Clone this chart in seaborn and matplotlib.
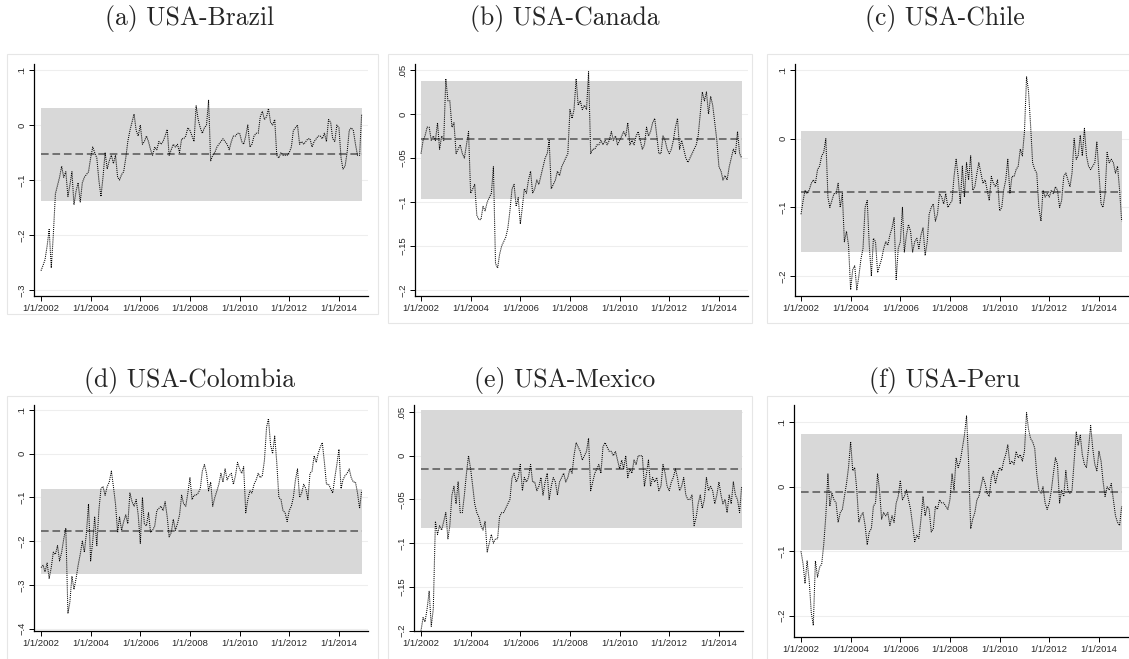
import numpy as np
import pandas as pd
import matplotlib
matplotlib.use('Agg')
import matplotlib.pyplot as plt
from matplotlib.patches import Rectangle
import seaborn as sns

sns.set_style('white')
plt.rcParams['font.family'] = ['Liberation Sans', 'DejaVu Sans']

# monthly readings, Jan 2002 .. Dec 2014 (one row per year)
brazil = [
    -0.265, -0.255, -0.245, -0.22, -0.19, -0.26, -0.20, -0.125, -0.11, -0.095, -0.075, -0.095,
    -0.085, -0.13, -0.11, -0.085, -0.145, -0.12, -0.105, -0.14, -0.105, -0.095, -0.09, -0.085,
    -0.06, -0.04, -0.05, -0.06, -0.10, -0.13, -0.095, -0.05, -0.08, -0.065, -0.055, -0.07,
    -0.055, -0.095, -0.10, -0.09, -0.085, -0.06, -0.03, -0.01, 0.005, 0.02, -0.01, -0.02,
    0.0, -0.035, -0.03, -0.02, -0.03, -0.045, -0.055, -0.04, -0.045, -0.03, -0.035, -0.03,
    -0.02, -0.008, -0.055, -0.045, -0.035, -0.04, -0.035, -0.05, -0.025, -0.025, -0.02, -0.005,
    -0.01, -0.02, -0.03, 0.035, 0.01, -0.005, -0.015, -0.005, 0.0, 0.045, -0.065, -0.055,
    -0.05, -0.04, -0.035, -0.03, -0.025, -0.03, -0.035, -0.045, -0.03, -0.02, -0.02, -0.015,
    -0.015, -0.03, -0.035, -0.02, 0.0, -0.04, -0.035, -0.02, -0.015, -0.015, 0.015, 0.025,
    0.01, 0.015, 0.03, 0.005, 0.0, 0.01, -0.055, -0.06, -0.05, -0.055, -0.055, -0.055,
    -0.05, -0.04, -0.01, -0.005, 0.0, -0.035, -0.03, -0.035, -0.03, -0.025, -0.025, -0.04,
    -0.03, -0.025, -0.02, -0.02, -0.025, -0.015, -0.03, 0.01, 0.005, -0.025, -0.03, 0.0,
    -0.005, -0.06, -0.08, -0.075, -0.05, -0.01, -0.005, -0.01, -0.035, -0.055, -0.055, 0.02,
]
canada = [
    -0.045, -0.03, -0.025, -0.015, -0.015, -0.03, -0.025, -0.03, -0.01, -0.04, -0.025, -0.03,
    0.04, 0.015, 0.015, -0.015, -0.01, -0.045, -0.04, -0.035, -0.045, -0.05, -0.035, -0.02,
    -0.09, -0.085, -0.08, -0.115, -0.12, -0.12, -0.105, -0.11, -0.10, -0.095, -0.09, -0.06,
    -0.17, -0.175, -0.16, -0.15, -0.145, -0.14, -0.13, -0.11, -0.085, -0.08, -0.105, -0.095,
    -0.125, -0.105, -0.085, -0.09, -0.075, -0.065, -0.09, -0.085, -0.075, -0.08, -0.07, -0.06,
    -0.05, -0.045, -0.03, -0.085, -0.08, -0.075, -0.065, -0.07, -0.06, -0.055, -0.05, -0.045,
    0.005, -0.005, 0.005, 0.04, 0.01, 0.015, 0.005, 0.01, 0.005, 0.048, -0.045, -0.04,
    -0.04, -0.035, -0.035, -0.03, -0.035, -0.03, -0.035, -0.03, -0.02, -0.03, -0.025, -0.035,
    -0.03, -0.025, -0.02, -0.025, -0.01, -0.035, -0.03, -0.035, -0.025, -0.02, -0.03, -0.04,
    -0.035, -0.015, -0.025, -0.02, -0.01, -0.005, -0.025, -0.045, -0.045, -0.025, -0.03, -0.04,
    -0.045, -0.04, -0.03, -0.015, -0.005, -0.04, -0.03, -0.04, -0.05, -0.055, -0.05, -0.045,
    -0.04, -0.035, -0.025, 0.0, 0.025, 0.015, 0.025, 0.0, 0.02, 0.01, -0.01, -0.03,
    -0.06, -0.065, -0.075, -0.07, -0.075, -0.06, -0.05, -0.04, -0.045, -0.02, -0.045, -0.05,
]
chile = [
    -0.11, -0.09, -0.075, -0.08, -0.075, -0.065, -0.06, -0.065, -0.045, -0.04, -0.025, -0.02,
    0.0, -0.085, -0.1, -0.09, -0.08, -0.08, -0.065, -0.1, -0.08, -0.15, -0.135, -0.155,
    -0.22, -0.19, -0.185, -0.22, -0.2, -0.175, -0.16, -0.1, -0.09, -0.155, -0.2, -0.145,
    -0.15, -0.195, -0.185, -0.175, -0.16, -0.15, -0.155, -0.14, -0.13, -0.115, -0.205, -0.16,
    -0.15, -0.1, -0.165, -0.14, -0.125, -0.135, -0.165, -0.15, -0.145, -0.16, -0.14, -0.13,
    -0.17, -0.15, -0.11, -0.1, -0.095, -0.12, -0.11, -0.08, -0.085, -0.095, -0.08, -0.1,
    -0.095, -0.09, -0.055, -0.03, -0.055, -0.095, -0.04, -0.085, -0.035, -0.06, -0.025, -0.075,
    -0.07, -0.05, -0.035, -0.05, -0.065, -0.06, -0.075, -0.09, -0.055, -0.065, -0.07, -0.06,
    -0.105, -0.1, -0.075, -0.06, -0.03, -0.08, -0.055, -0.055, -0.045, -0.04, -0.015, -0.025,
    0.01, 0.09, 0.07, 0.02, -0.035, -0.045, -0.05, -0.1, -0.12, -0.075, -0.085, -0.08,
    -0.085, -0.075, -0.08, -0.07, -0.075, -0.1, -0.09, -0.055, -0.05, -0.06, -0.07, -0.05,
    0.0, -0.03, -0.025, 0.005, -0.025, 0.015, -0.025, -0.04, -0.045, -0.04, -0.035, -0.005,
    -0.05, -0.095, -0.1, -0.08, -0.02, -0.035, -0.03, -0.035, -0.05, -0.04, -0.075, -0.12,
]
colombia = [
    -0.26, -0.255, -0.27, -0.25, -0.285, -0.26, -0.225, -0.23, -0.21, -0.245, -0.225, -0.195,
    -0.17, -0.365, -0.34, -0.28, -0.31, -0.285, -0.255, -0.23, -0.2, -0.225, -0.18, -0.115,
    -0.245, -0.2, -0.145, -0.21, -0.13, -0.08, -0.075, -0.095, -0.075, -0.065, -0.04, -0.075,
    -0.115, -0.18, -0.145, -0.175, -0.155, -0.14, -0.16, -0.09, -0.11, -0.12, -0.105, -0.14,
    -0.205, -0.1, -0.16, -0.165, -0.135, -0.18, -0.175, -0.165, -0.13, -0.125, -0.12, -0.13,
    -0.11, -0.145, -0.19, -0.18, -0.15, -0.175, -0.16, -0.14, -0.095, -0.115, -0.12, -0.09,
    -0.055, -0.105, -0.095, -0.095, -0.09, -0.08, -0.04, -0.025, -0.045, -0.085, -0.065, -0.12,
    -0.1, -0.085, -0.07, -0.045, -0.065, -0.035, -0.06, -0.05, -0.045, -0.07, -0.05, -0.02,
    -0.035, -0.045, -0.03, -0.135, -0.105, -0.085, -0.09, -0.07, -0.06, -0.045, -0.055, -0.05,
    -0.015, 0.06, 0.08, 0.02, 0.0, 0.04, -0.02, -0.1, -0.105, -0.13, -0.135, -0.155,
    -0.13, -0.12, -0.1, -0.06, -0.035, -0.1, -0.09, -0.07, -0.08, -0.105, -0.045, -0.04,
    -0.005, -0.02, 0.0, 0.015, 0.025, -0.02, -0.07, -0.07, -0.08, -0.09, -0.055, -0.025,
    0.01, -0.08, -0.06, -0.05, -0.045, -0.035, -0.055, -0.065, -0.065, -0.09, -0.125, -0.085,
]
mexico = [
    -0.2, -0.185, -0.19, -0.175, -0.155, -0.195, -0.175, -0.075, -0.09, -0.08, -0.085, -0.075,
    -0.065, -0.095, -0.08, -0.045, -0.035, -0.055, -0.03, -0.065, -0.065, -0.045, -0.02, 0.0,
    -0.015, -0.035, -0.055, -0.065, -0.07, -0.08, -0.085, -0.075, -0.11, -0.1, -0.09, -0.1,
    -0.095, -0.095, -0.07, -0.065, -0.065, -0.06, -0.055, -0.05, -0.025, -0.02, -0.03, -0.025,
    -0.01, -0.04, -0.025, -0.03, -0.025, -0.01, -0.03, -0.03, -0.04, -0.035, -0.025, -0.045,
    -0.03, -0.02, -0.05, -0.035, -0.025, -0.03, -0.045, -0.03, -0.025, -0.02, -0.03, -0.025,
    -0.015, -0.02, 0.0, 0.015, 0.01, 0.005, -0.005, 0.0, 0.005, 0.02, -0.04, -0.03,
    -0.02, -0.015, -0.01, -0.02, 0.01, 0.015, 0.01, 0.005, 0.005, 0.0, 0.005, -0.005,
    -0.015, -0.005, -0.015, 0.0, -0.025, -0.015, -0.02, -0.005, -0.01, 0.0, 0.0, 0.0,
    -0.035, -0.02, -0.005, -0.035, -0.025, -0.03, -0.025, -0.04, -0.035, -0.01, -0.02, -0.035,
    -0.04, -0.03, -0.025, -0.015, -0.025, -0.04, -0.035, -0.025, -0.045, -0.05, -0.05, -0.045,
    -0.08, -0.07, -0.055, -0.045, -0.06, -0.05, -0.025, -0.04, -0.035, -0.04, -0.055, -0.045,
    -0.03, -0.045, -0.055, -0.05, -0.065, -0.045, -0.055, -0.03, -0.045, -0.05, -0.065, -0.035,
]
peru = [
    -0.1, -0.12, -0.15, -0.115, -0.145, -0.195, -0.215, -0.115, -0.14, -0.125, -0.12, -0.09,
    -0.045, 0.02, -0.03, -0.01, -0.02, -0.025, -0.055, -0.04, -0.035, -0.015, 0.005, 0.03,
    0.07, 0.025, 0.03, -0.005, -0.055, -0.045, -0.04, -0.06, -0.09, -0.07, -0.065, -0.03,
    -0.025, 0.02, -0.005, -0.05, -0.04, -0.045, -0.04, -0.06, -0.045, -0.055, -0.025, -0.015,
    0.01, -0.02, -0.015, -0.005, -0.02, -0.035, -0.06, -0.085, -0.075, -0.08, -0.05, -0.015,
    -0.045, -0.03, -0.035, -0.07, -0.065, -0.03, -0.035, -0.02, -0.025, -0.025, -0.03, -0.035,
    -0.02, 0.02, -0.005, 0.045, 0.03, 0.04, 0.06, 0.08, 0.11, 0.04, -0.065, -0.05,
    -0.04, -0.02, -0.015, 0.0, 0.015, 0.005, -0.01, -0.015, 0.015, 0.025, 0.005, 0.02,
    0.03, 0.025, 0.04, 0.05, 0.065, 0.035, 0.04, 0.035, 0.055, 0.045, 0.05, 0.04,
    0.055, 0.115, 0.09, 0.075, 0.07, 0.06, 0.02, -0.005, -0.01, 0.0, -0.025, -0.035,
    -0.025, -0.005, 0.02, 0.045, 0.035, -0.025, -0.005, -0.015, 0.025, -0.005, -0.01, -0.005,
    0.04, 0.085, 0.065, 0.08, 0.05, 0.035, 0.03, 0.06, 0.095, 0.06, 0.035, 0.025,
    0.055, 0.04, 0.01, -0.015, 0.0, -0.005, 0.005, -0.02, -0.045, -0.055, -0.06, -0.03,
]

titles = ['(a) USA-Brazil', '(b) USA-Canada', '(c) USA-Chile',
          '(d) USA-Colombia', '(e) USA-Mexico', '(f) USA-Peru']
series = [brazil, canada, chile, colombia, mexico, peru]
means = [-0.0533, -0.0288, -0.0777, -0.1774, -0.0153, -0.0078]
band_lo = [-0.1376, -0.0962, -0.1655, -0.2744, -0.0824, -0.0979]
band_hi = [0.0303, 0.0379, 0.0112, -0.0812, 0.0523, 0.0819]
yticks = [
    [0.1, 0, -0.1, -0.2, -0.3],
    [0.05, 0, -0.05, -0.1, -0.15, -0.2],
    [0.1, 0, -0.1, -0.2],
    [0.1, 0, -0.1, -0.2, -0.3, -0.4],
    [0.05, 0, -0.05, -0.1, -0.15, -0.2],
    [0.1, 0, -0.1, -0.2],
]
ylims = [(-0.311, 0.111), (-0.2068, 0.0568), (-0.229, 0.1087),
         (-0.405, 0.111), (-0.2004, 0.058), (-0.233, 0.127)]
tick_years = [2002, 2004, 2006, 2008, 2010, 2012, 2014]

dates = pd.date_range('2002-01-01', periods=156, freq='MS')

W, H = 1129, 659
# pixel layout: axes (left, top, right, bottom), outer box (left, top, right, bottom)
axes_px = [(34, 64, 368, 296), (415, 64, 748, 296), (795, 64, 1129, 296),
           (34, 405, 368, 631), (414, 405, 743, 631), (794, 405, 1129, 637)]
box_px = [(7, 54, 378, 314), (388, 54, 752, 323), (767, 54, 1132, 323),
          (7, 396, 378, 662), (388, 396, 752, 662), (767, 396, 1132, 662)]
xl_px = [(0.282, 13.17), (0.242, 13.17), (0.242, 13.21),
         (0.282, 13.17), (0.282, 12.97), (0.282, 13.21)]
title_xy = [(190, 18), (565, 18), (945, 18), (190, 380), (565, 380), (945, 380)]


def stata_label(v):
    if v == 0:
        return '0'
    s = f'{abs(v):g}'.lstrip('0')
    return ('\u2212' if v < 0 else '') + s


fig = plt.figure(figsize=(W / 100, H / 100), dpi=100)
fig.patch.set_facecolor('white')

start = pd.Timestamp('2002-01-01')
for i in range(6):
    bl, bt, br, bb = box_px[i]
    fig.add_artist(Rectangle((bl / W, 1 - bb / H), (br - bl) / W, (bb - bt) / H,
                             transform=fig.transFigure, facecolor='white',
                             edgecolor='#e6e6e6', lw=0.8, zorder=0))
    l, t, r, b = axes_px[i]
    ax = fig.add_axes([l / W, 1 - b / H, (r - l) / W, (b - t) / H])
    ax.set_facecolor('none')

    df = pd.DataFrame({'date': dates, 'value': series[i]})
    ax.fill_between(df['date'], band_lo[i], band_hi[i], color='#d8d8d8', lw=0, zorder=1)
    ax.hlines(means[i], df['date'].iloc[0], df['date'].iloc[-1], colors='#555555',
              linestyles=(0, (5, 2.5)), lw=1.1, zorder=3)
    sns.lineplot(data=df, x='date', y='value', ax=ax, color='black', lw=0.75,
                 linestyle=(0, (1, 1)), zorder=4)

    for v in yticks[i]:
        ax.axhline(v, color='#eeeeee', lw=0.8, zorder=0.5)

    lo_off, hi_off = xl_px[i]
    ax.set_xlim(start - pd.Timedelta(days=lo_off * 365.25),
                start + pd.Timedelta(days=hi_off * 365.25))
    ax.set_ylim(*ylims[i])
    ax.set_xticks([pd.Timestamp(f'{y}-01-01') for y in tick_years])
    ax.set_xticklabels([f'1/1/{y}' for y in tick_years])
    ax.set_yticks(yticks[i])
    ax.set_yticklabels([stata_label(v) for v in yticks[i]], rotation=90, va='center')
    ax.set_xlabel('')
    ax.set_ylabel('')
    for side in ['top', 'right']:
        ax.spines[side].set_visible(False)
    for side in ['left', 'bottom']:
        ax.spines[side].set_color('black')
        ax.spines[side].set_linewidth(0.9)
    ax.tick_params(axis='both', which='major', direction='out', length=3.5, width=0.7,
                   color='black', labelsize=6.8, pad=2, left=True, bottom=True)

    tx, ty = title_xy[i]
    fig.text(tx / W, 1 - ty / H, titles[i], ha='center', va='center',
             fontsize=18.5, family='cmr10')

fig.savefig('out.png', dpi=100, facecolor='white')
